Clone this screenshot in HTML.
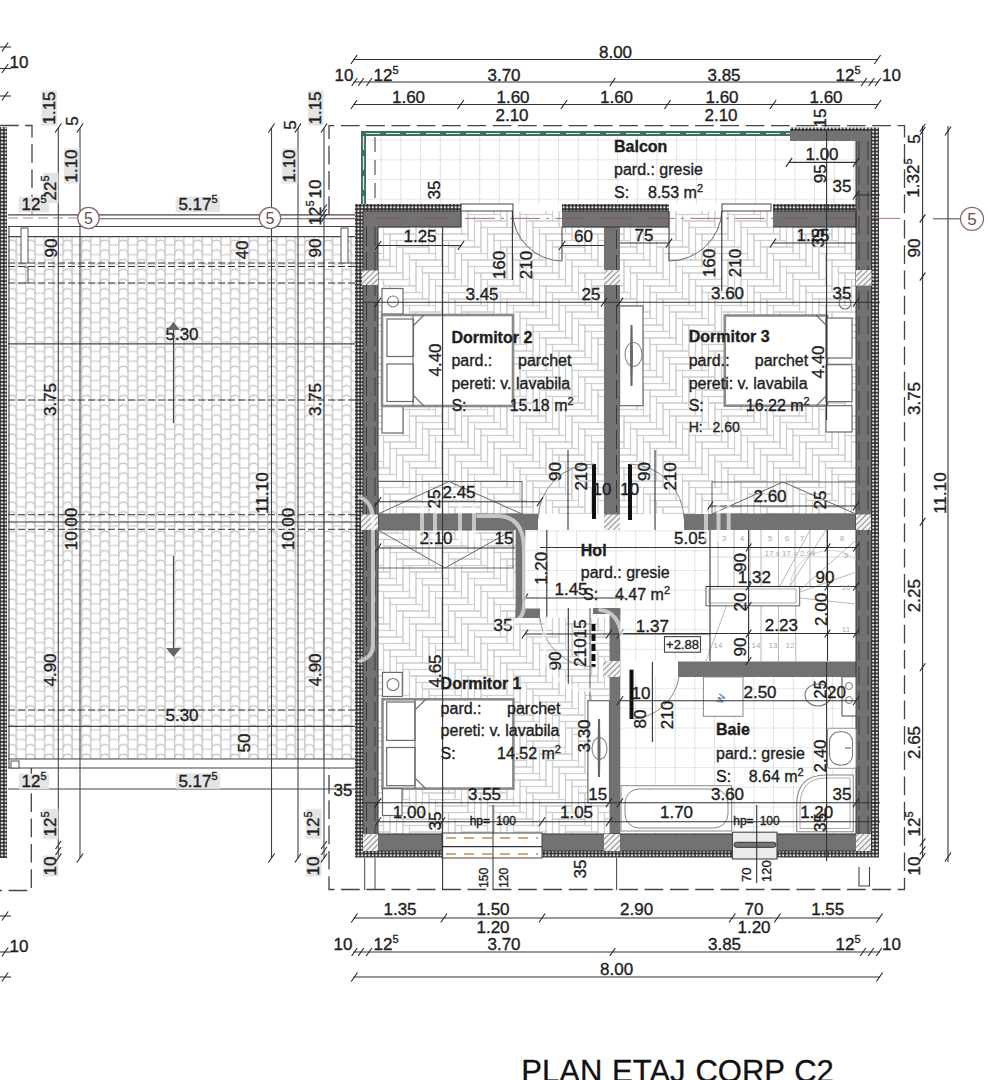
<!DOCTYPE html>
<html><head><meta charset="utf-8"><style>
html,body{margin:0;padding:0;background:#fff;width:988px;height:1080px;overflow:hidden}
svg{display:block;font-family:"Liberation Sans",sans-serif}
</style></head><body>
<svg width="988" height="1080" viewBox="0 0 988 1080">
<rect width="988" height="1080" fill="#fff"/>

<defs>
 <pattern id="dots" width="3.6" height="3.6" patternUnits="userSpaceOnUse" patternTransform="translate(0.2 0.3)">
  <rect width="3.6" height="3.6" fill="#2c2c2c"/>
  <circle cx="1.8" cy="1.8" r="1.2" fill="#e9e9e9"/>
 </pattern>
 <pattern id="hatch" width="4" height="4" patternUnits="userSpaceOnUse" patternTransform="rotate(45)">
  <rect width="4" height="4" fill="#f4f4f4"/>
  <line x1="0" y1="0" x2="0" y2="4" stroke="#555" stroke-width="1.3"/>
 </pattern>
 <pattern id="grid" width="19.7" height="19.7" patternUnits="userSpaceOnUse" patternTransform="translate(6.4 1.7)">
  <rect width="19.7" height="19.7" fill="#fff"/>
  <path d="M0 0H19.7M0 0V19.7" stroke="#cfcfcf" stroke-width="1.2"/>
 </pattern>
 <pattern id="grid2" width="19.7" height="19.7" patternUnits="userSpaceOnUse" patternTransform="translate(4.8 18.4)">
  <rect width="19.7" height="19.7" fill="#fff"/>
  <path d="M0 0H19.7M0 0V19.7" stroke="#cfcfcf" stroke-width="1.2"/>
 </pattern>
 <pattern id="roof" width="18.6" height="9.7" patternUnits="userSpaceOnUse" patternTransform="translate(6.5 239)">
  <rect width="18.6" height="9.7" fill="#fff"/>
  <path d="M0.6 0V9.7M9.9 0V9.7" stroke="#cacaca" stroke-width="1.4"/>
  <path d="M0.6 7 C0.6 1.8 2.2 1.2 5.25 1.2 C8.3 1.2 9.9 1.8 9.9 7" fill="none" stroke="#cacaca" stroke-width="1.4"/>
  <path d="M9.9 6.2 Q14.5 5.2 19.2 6.2" fill="none" stroke="#cfcfcf" stroke-width="1.3"/>
 </pattern>

 <pattern id="herr" width="52" height="52" patternUnits="userSpaceOnUse">
  <rect width="52" height="52" fill="#fff"/>
  <g fill="none" stroke="#d0d0d0" stroke-width="1.1"><rect x="-6.5" y="0.0" width="6.5" height="26.0"/><rect x="-6.5" y="-6.5" width="26.0" height="6.5"/><rect x="19.5" y="-26.0" width="6.5" height="26.0"/><rect x="-26.0" y="26.0" width="26.0" height="6.5"/><rect x="0.0" y="6.5" width="6.5" height="26.0"/><rect x="0.0" y="0.0" width="26.0" height="6.5"/><rect x="26.0" y="-19.5" width="6.5" height="26.0"/><rect x="-19.5" y="32.5" width="26.0" height="6.5"/><rect x="6.5" y="13.0" width="6.5" height="26.0"/><rect x="6.5" y="6.5" width="26.0" height="6.5"/><rect x="32.5" y="-13.0" width="6.5" height="26.0"/><rect x="-13.0" y="39.0" width="26.0" height="6.5"/><rect x="13.0" y="19.5" width="6.5" height="26.0"/><rect x="13.0" y="13.0" width="26.0" height="6.5"/><rect x="39.0" y="-6.5" width="6.5" height="26.0"/><rect x="-6.5" y="52.0" width="6.5" height="26.0"/><rect x="-6.5" y="45.5" width="26.0" height="6.5"/><rect x="19.5" y="26.0" width="6.5" height="26.0"/><rect x="19.5" y="19.5" width="26.0" height="6.5"/><rect x="45.5" y="0.0" width="6.5" height="26.0"/><rect x="45.5" y="-6.5" width="26.0" height="6.5"/><rect x="0.0" y="52.0" width="26.0" height="6.5"/><rect x="26.0" y="32.5" width="6.5" height="26.0"/><rect x="26.0" y="26.0" width="26.0" height="6.5"/><rect x="52.0" y="6.5" width="6.5" height="26.0"/><rect x="52.0" y="0.0" width="26.0" height="6.5"/><rect x="32.5" y="39.0" width="6.5" height="26.0"/><rect x="32.5" y="32.5" width="26.0" height="6.5"/><rect x="39.0" y="45.5" width="6.5" height="26.0"/><rect x="39.0" y="39.0" width="26.0" height="6.5"/><rect x="45.5" y="52.0" width="6.5" height="26.0"/><rect x="45.5" y="45.5" width="26.0" height="6.5"/><rect x="52.0" y="52.0" width="26.0" height="6.5"/></g>
 </pattern>
</defs>

<rect x="8" y="237" width="347" height="522" fill="url(#roof)" />
<rect x="0" y="127" width="7" height="731" fill="url(#dots)" />
<rect x="355" y="127" width="1" height="731" fill="#fff" />
<line x1="8" y1="214.8" x2="355" y2="214.8" stroke="#444" stroke-width="1.2" />
<line x1="8" y1="226.5" x2="355" y2="226.5" stroke="#444" stroke-width="1.2" />
<line x1="8" y1="236.6" x2="355" y2="236.6" stroke="#444" stroke-width="1.2" />
<line x1="8" y1="343.8" x2="355" y2="343.8" stroke="#444" stroke-width="1.2" />
<line x1="8" y1="522" x2="355" y2="522" stroke="#444" stroke-width="1.2" />
<line x1="8" y1="726.4" x2="355" y2="726.4" stroke="#444" stroke-width="1.2" />
<line x1="8" y1="759" x2="355" y2="759" stroke="#444" stroke-width="1.2" />
<line x1="8" y1="768" x2="355" y2="768" stroke="#444" stroke-width="1.2" />
<line x1="8" y1="789" x2="355" y2="789" stroke="#444" stroke-width="1.2" />
<line x1="8" y1="263" x2="355" y2="263" stroke="#333" stroke-width="1" stroke-dasharray="7 3"/>
<line x1="8" y1="266.5" x2="355" y2="266.5" stroke="#333" stroke-width="1" stroke-dasharray="7 3"/>
<line x1="8" y1="283" x2="355" y2="283" stroke="#333" stroke-width="1" stroke-dasharray="7 3"/>
<line x1="8" y1="400" x2="355" y2="400" stroke="#333" stroke-width="1" stroke-dasharray="7 3"/>
<line x1="8" y1="710" x2="355" y2="710" stroke="#333" stroke-width="1" stroke-dasharray="7 3"/>
<line x1="8" y1="514.7" x2="355" y2="514.7" stroke="#333" stroke-width="1" stroke-dasharray="7 3"/>
<line x1="8" y1="529.3" x2="355" y2="529.3" stroke="#333" stroke-width="1" stroke-dasharray="7 3"/>
<line x1="9" y1="226.5" x2="9" y2="768" stroke="#444" stroke-width="1.1"/>
<rect x="21" y="228" width="7.0" height="35.0" fill="#fff" stroke="#555" stroke-width="1"/>
<path d="M24 267H28V283H24" fill="none" stroke="#555" stroke-width="1" />
<rect x="341" y="228" width="7.0" height="35.0" fill="#fff" stroke="#555" stroke-width="1"/>
<rect x="11" y="761" width="8.0" height="7.0" fill="#fff" stroke="#555" stroke-width="1"/>
<line x1="55.5" y1="849.0" x2="61.1" y2="841.0" stroke="#222" stroke-width="1.1"/>
<line x1="321.2" y1="849.0" x2="326.8" y2="841.0" stroke="#222" stroke-width="1.1"/>
<line x1="55.5" y1="855.0" x2="61.1" y2="847.0" stroke="#222" stroke-width="1.1"/>
<line x1="321.2" y1="855.0" x2="326.8" y2="847.0" stroke="#222" stroke-width="1.1"/>
<line x1="321.2" y1="212.5" x2="326.8" y2="204.5" stroke="#222" stroke-width="1.1"/>
<line x1="321.2" y1="217.0" x2="326.8" y2="209.0" stroke="#222" stroke-width="1.1"/>
<line x1="321.2" y1="222.0" x2="326.8" y2="214.0" stroke="#222" stroke-width="1.1"/>
<line x1="80" y1="218.7" x2="355" y2="218.7" stroke="#555" stroke-width="1.1"/>
<line x1="8" y1="218" x2="80" y2="218" stroke="#a05050" stroke-width="1" stroke-dasharray="10 5" opacity="0.7"/>
<line x1="58.3" y1="128" x2="58.3" y2="858" stroke="#444" stroke-width="1.1" />
<line x1="80" y1="128" x2="80" y2="858" stroke="#444" stroke-width="1.1" />
<line x1="271.5" y1="128" x2="271.5" y2="858" stroke="#444" stroke-width="1.1" />
<line x1="298" y1="128" x2="298" y2="858" stroke="#444" stroke-width="1.1" />
<line x1="324" y1="128" x2="324" y2="858" stroke="#444" stroke-width="1.1" />
<rect x="366" y="135" width="490" height="69" fill="url(#grid)" />
<rect x="378" y="211" width="226" height="303" fill="url(#herr)" />
<rect x="620" y="211" width="236" height="303" fill="url(#herr)" />
<rect x="378" y="530" width="231" height="304" fill="url(#herr)" />
<rect x="525" y="530" width="185" height="88" fill="url(#grid2)" />
<rect x="609" y="618" width="101" height="43" fill="url(#grid2)" />
<rect x="710" y="530" width="146" height="131" fill="#fff" />
<rect x="620" y="677" width="236" height="157" fill="url(#grid2)" />
<rect x="355" y="204" width="8" height="653" fill="url(#dots)" />
<rect x="871.5" y="131" width="7.5" height="726" fill="url(#dots)" />
<rect x="355" y="850.5" width="524" height="7.0" fill="url(#dots)" />
<rect x="355" y="204" width="106" height="7" fill="url(#dots)" />
<rect x="562" y="204" width="107" height="7" fill="url(#dots)" />
<rect x="773" y="204" width="98.5" height="7" fill="url(#dots)" />
<rect x="363" y="211" width="15" height="640" fill="#727272" />
<rect x="856" y="131" width="15.5" height="720" fill="#727272" />
<rect x="363" y="834" width="508.5" height="17" fill="#727272" />
<rect x="363" y="211" width="98" height="16" fill="#727272" />
<rect x="562" y="211" width="107" height="16" fill="#727272" />
<rect x="773" y="211" width="83" height="16" fill="#727272" />
<rect x="790" y="131" width="66" height="10" fill="#727272" />
<rect x="790" y="127.5" width="89" height="3.5" fill="url(#dots)" />
<rect x="604" y="227" width="16" height="303" fill="#727272" />
<rect x="378" y="514" width="160" height="16" fill="#727272" />
<rect x="684" y="514" width="172" height="16" fill="#727272" />
<rect x="515.6" y="530" width="9.699999999999932" height="88" fill="#727272" />
<rect x="515.6" y="608.5" width="24.399999999999977" height="9.5" fill="#727272" />
<rect x="609.5" y="608.5" width="10.799999999999955" height="225.5" fill="#727272" />
<rect x="593" y="608" width="27.299999999999955" height="6" fill="#727272" />
<rect x="678" y="661.5" width="178" height="15.5" fill="#727272" />
<line x1="366.5" y1="227" x2="366.5" y2="834" stroke="#3a3a3a" stroke-width="1" stroke-dasharray="19 6"/>
<line x1="375" y1="227" x2="375" y2="834" stroke="#3a3a3a" stroke-width="1" stroke-dasharray="19 6"/>
<line x1="859" y1="141" x2="859" y2="834" stroke="#3a3a3a" stroke-width="1" stroke-dasharray="19 6"/>
<line x1="868" y1="141" x2="868" y2="834" stroke="#3a3a3a" stroke-width="1" stroke-dasharray="19 6"/>
<path d="M378 227V834H856V141" fill="none" stroke="#333" stroke-width="1"/>
<line x1="616.5" y1="230" x2="616.5" y2="512" stroke="#3a3a3a" stroke-width="1" stroke-dasharray="19 6"/>
<path d="M363 211V851H871.5V131" fill="none" stroke="#333" stroke-width="1"/>
<path d="M363 211H461V227H378" fill="none" stroke="#333" stroke-width="1"/>
<path d="M562 211H669V227H562" fill="none" stroke="#333" stroke-width="1"/>
<path d="M773 211H856V227H773" fill="none" stroke="#333" stroke-width="1"/>
<line x1="330" y1="218.4" x2="904" y2="218.4" stroke="#a05050" stroke-width="1" stroke-dasharray="30 6 3 6" opacity="0.8"/>
<rect x="604" y="270" width="16" height="15" fill="url(#hatch)" />
<rect x="362" y="270.5" width="16" height="14.5" fill="url(#hatch)" />
<rect x="856" y="270" width="15.5" height="15.600000000000023" fill="url(#hatch)" />
<rect x="361" y="514.5" width="17" height="15.5" fill="url(#hatch)" />
<rect x="604" y="514.5" width="16" height="15.5" fill="url(#hatch)" />
<rect x="856" y="514.5" width="15" height="15.5" fill="url(#hatch)" />
<rect x="363" y="834" width="15" height="17" fill="url(#hatch)" />
<rect x="604" y="834" width="16" height="17" fill="url(#hatch)" />
<rect x="856" y="834" width="15" height="17" fill="url(#hatch)" />
<rect x="603" y="661" width="17" height="16" fill="url(#hatch)" />
<rect x="461" y="204" width="52" height="7" fill="#fff" stroke="#444" stroke-width="1"/>
<rect x="722" y="204" width="49" height="7" fill="#fff" stroke="#444" stroke-width="1"/>
<rect x="442" y="833" width="100" height="25" fill="#fff" stroke="#444" stroke-width="1"/>
<rect x="732.4" y="832.2" width="44.60000000000002" height="26.799999999999955" fill="#ebebeb" stroke="#444" stroke-width="1.1"/>
<rect x="734" y="842.3" width="42" height="5" rx="2.5" fill="#777" stroke="#333" stroke-width="1"/>
<rect x="361" y="131" width="5" height="73" fill="#3f6f5f" />
<rect x="361" y="131" width="429" height="5" fill="#3f6f5f" />
<line x1="366" y1="133.5" x2="790" y2="133.5" stroke="#dfe8e4" stroke-width="1.2" stroke-dasharray="14 6"/>
<line x1="363.5" y1="136" x2="363.5" y2="204" stroke="#dfe8e4" stroke-width="1.2" stroke-dasharray="14 6"/>
<line x1="375" y1="137" x2="375" y2="204" stroke="#555" stroke-width="1.2" stroke-dasharray="15 8"/>
<path d="M329 215V125.7H904.5V889.5H329V768" fill="none" stroke="#444" stroke-width="1.3" stroke-dasharray="18.7 6.6"/>
<line x1="353.5" y1="59.5" x2="878" y2="59.5" stroke="#333" stroke-width="1.1"/>
<line x1="350.9" y1="64.0" x2="357.1" y2="55.0" stroke="#222" stroke-width="1.1"/>
<line x1="874.4" y1="64.0" x2="880.6" y2="55.0" stroke="#222" stroke-width="1.1"/>
<text x="615.5" y="57.5" font-size="17" text-anchor="middle" font-weight="normal" fill="#1e1e1e" stroke="#1e1e1e" stroke-width="0.35">8.00</text>
<line x1="353.5" y1="82" x2="878" y2="82" stroke="#333" stroke-width="1.1"/>
<line x1="351.7" y1="86.0" x2="357.3" y2="78.0" stroke="#222" stroke-width="1.1"/>
<line x1="358.2" y1="86.0" x2="363.8" y2="78.0" stroke="#222" stroke-width="1.1"/>
<line x1="366.4" y1="86.0" x2="372.0" y2="78.0" stroke="#222" stroke-width="1.1"/>
<line x1="609.7" y1="86.0" x2="615.3" y2="78.0" stroke="#222" stroke-width="1.1"/>
<line x1="861.2" y1="86.0" x2="866.8" y2="78.0" stroke="#222" stroke-width="1.1"/>
<line x1="868.7" y1="86.0" x2="874.3" y2="78.0" stroke="#222" stroke-width="1.1"/>
<line x1="875.2" y1="86.0" x2="880.8" y2="78.0" stroke="#222" stroke-width="1.1"/>
<text x="344" y="80.5" font-size="17" text-anchor="middle" font-weight="normal" fill="#1e1e1e" stroke="#1e1e1e" stroke-width="0.35">10</text>
<text x="386" y="80.5" font-size="17" text-anchor="middle" font-weight="normal" fill="#1e1e1e" stroke="#1e1e1e" stroke-width="0.35">12<tspan font-size="11" dy="-7">5</tspan></text>
<text x="504" y="80.5" font-size="17" text-anchor="middle" font-weight="normal" fill="#1e1e1e" stroke="#1e1e1e" stroke-width="0.35">3.70</text>
<text x="724" y="80.5" font-size="17" text-anchor="middle" font-weight="normal" fill="#1e1e1e" stroke="#1e1e1e" stroke-width="0.35">3.85</text>
<text x="848" y="80.5" font-size="17" text-anchor="middle" font-weight="normal" fill="#1e1e1e" stroke="#1e1e1e" stroke-width="0.35">12<tspan font-size="11" dy="-7">5</tspan></text>
<text x="891.5" y="80.5" font-size="17" text-anchor="middle" font-weight="normal" fill="#1e1e1e" stroke="#1e1e1e" stroke-width="0.35">10</text>
<line x1="353.5" y1="104.5" x2="878" y2="104.5" stroke="#333" stroke-width="1.1"/>
<line x1="350.9" y1="109.0" x2="357.1" y2="100.0" stroke="#222" stroke-width="1.1"/>
<line x1="457.5" y1="109.0" x2="463.8" y2="100.0" stroke="#222" stroke-width="1.1"/>
<line x1="560.9" y1="109.0" x2="567.1" y2="100.0" stroke="#222" stroke-width="1.1"/>
<line x1="664.4" y1="109.0" x2="670.6" y2="100.0" stroke="#222" stroke-width="1.1"/>
<line x1="769.9" y1="109.0" x2="776.1" y2="100.0" stroke="#222" stroke-width="1.1"/>
<line x1="874.9" y1="109.0" x2="881.1" y2="100.0" stroke="#222" stroke-width="1.1"/>
<text x="408.5" y="102.5" font-size="17" text-anchor="middle" font-weight="normal" fill="#1e1e1e" stroke="#1e1e1e" stroke-width="0.35">1.60</text>
<text x="513" y="102.5" font-size="17" text-anchor="middle" font-weight="normal" fill="#1e1e1e" stroke="#1e1e1e" stroke-width="0.35">1.60</text>
<text x="616.5" y="102.5" font-size="17" text-anchor="middle" font-weight="normal" fill="#1e1e1e" stroke="#1e1e1e" stroke-width="0.35">1.60</text>
<text x="722" y="102.5" font-size="17" text-anchor="middle" font-weight="normal" fill="#1e1e1e" stroke="#1e1e1e" stroke-width="0.35">1.60</text>
<text x="826" y="102.5" font-size="17" text-anchor="middle" font-weight="normal" fill="#1e1e1e" stroke="#1e1e1e" stroke-width="0.35">1.60</text>
<text x="512" y="120.5" font-size="17" text-anchor="middle" font-weight="normal" fill="#1e1e1e" stroke="#1e1e1e" stroke-width="0.35">2.10</text>
<text x="721" y="120.5" font-size="17" text-anchor="middle" font-weight="normal" fill="#1e1e1e" stroke="#1e1e1e" stroke-width="0.35">2.10</text>
<line x1="353.5" y1="918" x2="880" y2="918" stroke="#333" stroke-width="1.1"/>
<line x1="351.2" y1="922.5" x2="357.5" y2="913.5" stroke="#222" stroke-width="1.1"/>
<line x1="440.8" y1="922.5" x2="447.0" y2="913.5" stroke="#222" stroke-width="1.1"/>
<line x1="538.9" y1="922.5" x2="545.1" y2="913.5" stroke="#222" stroke-width="1.1"/>
<line x1="729.1" y1="922.5" x2="735.4" y2="913.5" stroke="#222" stroke-width="1.1"/>
<line x1="774.2" y1="922.5" x2="780.5" y2="913.5" stroke="#222" stroke-width="1.1"/>
<line x1="876.4" y1="922.5" x2="882.6" y2="913.5" stroke="#222" stroke-width="1.1"/>
<text x="400" y="914.5" font-size="17" text-anchor="middle" font-weight="normal" fill="#1e1e1e" stroke="#1e1e1e" stroke-width="0.35">1.35</text>
<text x="493" y="914.5" font-size="17" text-anchor="middle" font-weight="normal" fill="#1e1e1e" stroke="#1e1e1e" stroke-width="0.35">1.50</text>
<text x="636.6" y="914.5" font-size="17" text-anchor="middle" font-weight="normal" fill="#1e1e1e" stroke="#1e1e1e" stroke-width="0.35">2.90</text>
<text x="754" y="914.5" font-size="17" text-anchor="middle" font-weight="normal" fill="#1e1e1e" stroke="#1e1e1e" stroke-width="0.35">70</text>
<text x="827.7" y="914.5" font-size="17" text-anchor="middle" font-weight="normal" fill="#1e1e1e" stroke="#1e1e1e" stroke-width="0.35">1.55</text>
<text x="493" y="932.5" font-size="17" text-anchor="middle" font-weight="normal" fill="#1e1e1e" stroke="#1e1e1e" stroke-width="0.35">1.20</text>
<text x="754" y="932.5" font-size="17" text-anchor="middle" font-weight="normal" fill="#1e1e1e" stroke="#1e1e1e" stroke-width="0.35">1.20</text>
<line x1="353.5" y1="952" x2="880" y2="952" stroke="#333" stroke-width="1.1"/>
<line x1="351.6" y1="956.0" x2="357.2" y2="948.0" stroke="#222" stroke-width="1.1"/>
<line x1="358.2" y1="956.0" x2="363.8" y2="948.0" stroke="#222" stroke-width="1.1"/>
<line x1="366.2" y1="956.0" x2="371.8" y2="948.0" stroke="#222" stroke-width="1.1"/>
<line x1="609.7" y1="956.0" x2="615.3" y2="948.0" stroke="#222" stroke-width="1.1"/>
<line x1="860.2" y1="956.0" x2="865.8" y2="948.0" stroke="#222" stroke-width="1.1"/>
<line x1="868.2" y1="956.0" x2="873.8" y2="948.0" stroke="#222" stroke-width="1.1"/>
<line x1="876.2" y1="956.0" x2="881.8" y2="948.0" stroke="#222" stroke-width="1.1"/>
<text x="343" y="950" font-size="17" text-anchor="middle" font-weight="normal" fill="#1e1e1e" stroke="#1e1e1e" stroke-width="0.35">10</text>
<text x="386" y="950" font-size="17" text-anchor="middle" font-weight="normal" fill="#1e1e1e" stroke="#1e1e1e" stroke-width="0.35">12<tspan font-size="11" dy="-7">5</tspan></text>
<text x="504" y="950" font-size="17" text-anchor="middle" font-weight="normal" fill="#1e1e1e" stroke="#1e1e1e" stroke-width="0.35">3.70</text>
<text x="724.5" y="950" font-size="17" text-anchor="middle" font-weight="normal" fill="#1e1e1e" stroke="#1e1e1e" stroke-width="0.35">3.85</text>
<text x="848" y="950" font-size="17" text-anchor="middle" font-weight="normal" fill="#1e1e1e" stroke="#1e1e1e" stroke-width="0.35">12<tspan font-size="11" dy="-7">5</tspan></text>
<text x="891.5" y="950" font-size="17" text-anchor="middle" font-weight="normal" fill="#1e1e1e" stroke="#1e1e1e" stroke-width="0.35">10</text>
<line x1="353.5" y1="977" x2="880" y2="977" stroke="#333" stroke-width="1.1"/>
<line x1="351.2" y1="981.5" x2="357.5" y2="972.5" stroke="#222" stroke-width="1.1"/>
<line x1="876.4" y1="981.5" x2="882.6" y2="972.5" stroke="#222" stroke-width="1.1"/>
<text x="616.6" y="974.5" font-size="17" text-anchor="middle" font-weight="normal" fill="#1e1e1e" stroke="#1e1e1e" stroke-width="0.35">8.00</text>
<text x="521.3" y="1081.8" font-size="31" word-spacing="1.2" fill="#111" stroke="#111" stroke-width="0.3">PLAN ETAJ CORP C2</text>
<line x1="922.6" y1="126" x2="922.6" y2="858" stroke="#333" stroke-width="1.1"/>
<line x1="919.8" y1="131.8" x2="925.4" y2="123.8" stroke="#222" stroke-width="1.1"/>
<line x1="919.8" y1="135.0" x2="925.4" y2="127.0" stroke="#222" stroke-width="1.1"/>
<line x1="919.8" y1="222.4" x2="925.4" y2="214.4" stroke="#222" stroke-width="1.1"/>
<line x1="919.8" y1="280.6" x2="925.4" y2="272.6" stroke="#222" stroke-width="1.1"/>
<line x1="919.8" y1="525.7" x2="925.4" y2="517.7" stroke="#222" stroke-width="1.1"/>
<line x1="919.8" y1="671.2" x2="925.4" y2="663.2" stroke="#222" stroke-width="1.1"/>
<line x1="919.8" y1="846.3" x2="925.4" y2="838.3" stroke="#222" stroke-width="1.1"/>
<line x1="919.8" y1="854.5" x2="925.4" y2="846.5" stroke="#222" stroke-width="1.1"/>
<line x1="919.8" y1="861.0" x2="925.4" y2="853.0" stroke="#222" stroke-width="1.1"/>
<line x1="948" y1="126" x2="948" y2="862" stroke="#333" stroke-width="1.1"/>
<line x1="944.9" y1="135.5" x2="951.1" y2="126.5" stroke="#222" stroke-width="1.1"/>
<line x1="944.9" y1="861.5" x2="951.1" y2="852.5" stroke="#222" stroke-width="1.1"/>
<text transform="translate(919.6 139) rotate(-90)" font-size="17" text-anchor="middle" fill="#1e1e1e" stroke="#1e1e1e" stroke-width="0.35">5</text>
<text transform="translate(919.1 178) rotate(-90)" font-size="17" text-anchor="middle" fill="#1e1e1e" stroke="#1e1e1e" stroke-width="0.35">1.32<tspan font-size="11" dy="-7">5</tspan></text>
<text transform="translate(919.6 248) rotate(-90)" font-size="17" text-anchor="middle" fill="#1e1e1e" stroke="#1e1e1e" stroke-width="0.35">90</text>
<text transform="translate(919.6 398.5) rotate(-90)" font-size="17" text-anchor="middle" fill="#1e1e1e" stroke="#1e1e1e" stroke-width="0.35">3.75</text>
<text transform="translate(919.6 595.7) rotate(-90)" font-size="17" text-anchor="middle" fill="#1e1e1e" stroke="#1e1e1e" stroke-width="0.35">2.25</text>
<text transform="translate(919.6 742.5) rotate(-90)" font-size="17" text-anchor="middle" fill="#1e1e1e" stroke="#1e1e1e" stroke-width="0.35">2.65</text>
<text transform="translate(919.6 824) rotate(-90)" font-size="17" text-anchor="middle" fill="#1e1e1e" stroke="#1e1e1e" stroke-width="0.35">12<tspan font-size="11" dy="-7">5</tspan></text>
<text transform="translate(919.6 866) rotate(-90)" font-size="17" text-anchor="middle" fill="#1e1e1e" stroke="#1e1e1e" stroke-width="0.35">10</text>
<text transform="translate(945.6 493) rotate(-90)" font-size="17" text-anchor="middle" fill="#1e1e1e" stroke="#1e1e1e" stroke-width="0.35">11.10</text>
<line x1="933" y1="218.8" x2="960" y2="218.8" stroke="#555" stroke-width="1.1"/>
<circle cx="972" cy="218.8" r="11.5" fill="#fff" stroke="#8a6a6a" stroke-width="1.3"/>
<text x="972" y="225" font-size="17" text-anchor="middle" fill="#6a4f4f">5</text>
<path d="M859 867V886H869.5V867" fill="none" stroke="#444" stroke-width="1.1"/>
<line x1="1.9" y1="51.5" x2="8.2" y2="42.5" stroke="#222" stroke-width="1.1"/>
<line x1="0" y1="47" x2="11" y2="47" stroke="#333" stroke-width="1.1"/>
<line x1="1.9" y1="73.0" x2="8.2" y2="64.0" stroke="#222" stroke-width="1.1"/>
<line x1="0" y1="68.5" x2="11" y2="68.5" stroke="#333" stroke-width="1.1"/>
<line x1="1.9" y1="100.5" x2="8.2" y2="91.5" stroke="#222" stroke-width="1.1"/>
<line x1="0" y1="96" x2="11" y2="96" stroke="#333" stroke-width="1.1"/>
<text x="19" y="68" font-size="17" text-anchor="middle" font-weight="normal" fill="#1e1e1e" stroke="#1e1e1e" stroke-width="0.35">10</text>
<line x1="1.9" y1="920.5" x2="8.2" y2="911.5" stroke="#222" stroke-width="1.1"/>
<line x1="0" y1="916" x2="11" y2="916" stroke="#333" stroke-width="1.1"/>
<line x1="1.9" y1="956.5" x2="8.2" y2="947.5" stroke="#222" stroke-width="1.1"/>
<line x1="0" y1="952" x2="11" y2="952" stroke="#333" stroke-width="1.1"/>
<line x1="1.9" y1="981.5" x2="8.2" y2="972.5" stroke="#222" stroke-width="1.1"/>
<line x1="0" y1="977" x2="11" y2="977" stroke="#333" stroke-width="1.1"/>
<text x="19" y="952" font-size="17" text-anchor="middle" font-weight="normal" fill="#1e1e1e" stroke="#1e1e1e" stroke-width="0.35">10</text>
<path d="M0 125.5H32V215" fill="none" stroke="#444" stroke-width="1.3" stroke-dasharray="18.7 6.6"/>
<path d="M31.3 768V890.5H0" fill="none" stroke="#444" stroke-width="1.3" stroke-dasharray="18.7 6.6"/>
<rect x="41.5" y="90.5" width="15.6" height="35.1" fill="#e4e4e4"/>
<text transform="translate(54.7 108) rotate(-90)" font-size="17" text-anchor="middle" fill="#1e1e1e" stroke="#1e1e1e" stroke-width="0.35">1.15</text>
<text transform="translate(78.1 121) rotate(-90)" font-size="17" text-anchor="middle" fill="#1e1e1e" stroke="#1e1e1e" stroke-width="0.35">5</text>
<rect x="63.9" y="148.5" width="15.6" height="35.1" fill="#e4e4e4"/>
<text transform="translate(77.1 166) rotate(-90)" font-size="17" text-anchor="middle" fill="#1e1e1e" stroke="#1e1e1e" stroke-width="0.35">1.10</text>
<rect x="42.9" y="172.8" width="15.6" height="30.4" fill="#e4e4e4"/>
<text transform="translate(56.1 188) rotate(-90)" font-size="17" text-anchor="middle" fill="#1e1e1e" stroke="#1e1e1e" stroke-width="0.35">22<tspan font-size="11" dy="-7">5</tspan></text>
<rect x="18.8" y="196.7" width="30.4" height="15.6" fill="#e4e4e4"/>
<text x="34" y="210" font-size="17" text-anchor="middle" font-weight="normal" fill="#1e1e1e" stroke="#1e1e1e" stroke-width="0.35">12<tspan font-size="11" dy="-7">5</tspan></text>
<rect x="307.9" y="90.5" width="15.6" height="35.1" fill="#e4e4e4"/>
<text transform="translate(321.1 108) rotate(-90)" font-size="17" text-anchor="middle" fill="#1e1e1e" stroke="#1e1e1e" stroke-width="0.35">1.15</text>
<text transform="translate(296.1 125) rotate(-90)" font-size="17" text-anchor="middle" fill="#1e1e1e" stroke="#1e1e1e" stroke-width="0.35">5</text>
<rect x="281.9" y="148.5" width="15.6" height="35.1" fill="#e4e4e4"/>
<text transform="translate(295.1 166) rotate(-90)" font-size="17" text-anchor="middle" fill="#1e1e1e" stroke="#1e1e1e" stroke-width="0.35">1.10</text>
<text transform="translate(320.9 189) rotate(-90)" font-size="17" text-anchor="middle" fill="#1e1e1e" stroke="#1e1e1e" stroke-width="0.35">10</text>
<text transform="translate(321.1 213) rotate(-90)" font-size="17" text-anchor="middle" fill="#1e1e1e" stroke="#1e1e1e" stroke-width="0.35">12<tspan font-size="11" dy="-7">5</tspan></text>
<rect x="175.7" y="196.7" width="44.5" height="15.6" fill="#e4e4e4"/>
<text x="198" y="210" font-size="17" text-anchor="middle" font-weight="normal" fill="#1e1e1e" stroke="#1e1e1e" stroke-width="0.35">5.17<tspan font-size="11" dy="-7">5</tspan></text>
<text transform="translate(57.1 248) rotate(-90)" font-size="17" text-anchor="middle" fill="#1e1e1e" stroke="#1e1e1e" stroke-width="0.35">90</text>
<text transform="translate(321.1 248) rotate(-90)" font-size="17" text-anchor="middle" fill="#1e1e1e" stroke="#1e1e1e" stroke-width="0.35">90</text>
<text transform="translate(248.1 250) rotate(-90)" font-size="17" text-anchor="middle" fill="#1e1e1e" stroke="#1e1e1e" stroke-width="0.35">40</text>
<text x="182" y="340" font-size="17" text-anchor="middle" font-weight="normal" fill="#1e1e1e" stroke="#1e1e1e" stroke-width="0.35">5.30</text>
<text transform="translate(56.4 399.5) rotate(-90)" font-size="17" text-anchor="middle" fill="#1e1e1e" stroke="#1e1e1e" stroke-width="0.35">3.75</text>
<text transform="translate(321.1 399.5) rotate(-90)" font-size="17" text-anchor="middle" fill="#1e1e1e" stroke="#1e1e1e" stroke-width="0.35">3.75</text>
<text transform="translate(268.1 493) rotate(-90)" font-size="17" text-anchor="middle" fill="#1e1e1e" stroke="#1e1e1e" stroke-width="0.35">11.10</text>
<text transform="translate(77.1 529) rotate(-90)" font-size="17" text-anchor="middle" fill="#1e1e1e" stroke="#1e1e1e" stroke-width="0.35">10.00</text>
<text transform="translate(294.1 529) rotate(-90)" font-size="17" text-anchor="middle" fill="#1e1e1e" stroke="#1e1e1e" stroke-width="0.35">10.00</text>
<text transform="translate(56.1 670) rotate(-90)" font-size="17" text-anchor="middle" fill="#1e1e1e" stroke="#1e1e1e" stroke-width="0.35">4.90</text>
<text transform="translate(321.1 670) rotate(-90)" font-size="17" text-anchor="middle" fill="#1e1e1e" stroke="#1e1e1e" stroke-width="0.35">4.90</text>
<text x="182" y="721" font-size="17" text-anchor="middle" font-weight="normal" fill="#1e1e1e" stroke="#1e1e1e" stroke-width="0.35">5.30</text>
<text transform="translate(250.1 743) rotate(-90)" font-size="17" text-anchor="middle" fill="#1e1e1e" stroke="#1e1e1e" stroke-width="0.35">50</text>
<rect x="175.7" y="773.2" width="44.5" height="15.6" fill="#e4e4e4"/>
<text x="198" y="786.5" font-size="17" text-anchor="middle" font-weight="normal" fill="#1e1e1e" stroke="#1e1e1e" stroke-width="0.35">5.17<tspan font-size="11" dy="-7">5</tspan></text>
<rect x="18.8" y="773.7" width="30.4" height="15.6" fill="#e4e4e4"/>
<text x="34" y="787" font-size="17" text-anchor="middle" font-weight="normal" fill="#1e1e1e" stroke="#1e1e1e" stroke-width="0.35">12<tspan font-size="11" dy="-7">5</tspan></text>
<text x="343" y="796" font-size="17" text-anchor="middle" font-weight="normal" fill="#1e1e1e" stroke="#1e1e1e" stroke-width="0.35">35</text>
<rect x="42.9" y="808.8" width="15.6" height="30.4" fill="#e4e4e4"/>
<text transform="translate(56.1 824) rotate(-90)" font-size="17" text-anchor="middle" fill="#1e1e1e" stroke="#1e1e1e" stroke-width="0.35">12<tspan font-size="11" dy="-7">5</tspan></text>
<rect x="42.9" y="855.5" width="15.6" height="20.9" fill="#e4e4e4"/>
<text transform="translate(56.1 866) rotate(-90)" font-size="17" text-anchor="middle" fill="#1e1e1e" stroke="#1e1e1e" stroke-width="0.35">10</text>
<rect x="305.9" y="808.8" width="15.6" height="30.4" fill="#e4e4e4"/>
<text transform="translate(319.1 824) rotate(-90)" font-size="17" text-anchor="middle" fill="#1e1e1e" stroke="#1e1e1e" stroke-width="0.35">12<tspan font-size="11" dy="-7">5</tspan></text>
<rect x="305.9" y="855.5" width="15.6" height="20.9" fill="#e4e4e4"/>
<text transform="translate(319.1 866) rotate(-90)" font-size="17" text-anchor="middle" fill="#1e1e1e" stroke="#1e1e1e" stroke-width="0.35">10</text>
<line x1="55.1" y1="862.5" x2="61.4" y2="853.5" stroke="#222" stroke-width="1.1"/>
<line x1="76.8" y1="862.5" x2="83.2" y2="853.5" stroke="#222" stroke-width="1.1"/>
<line x1="268.4" y1="862.5" x2="274.6" y2="853.5" stroke="#222" stroke-width="1.1"/>
<line x1="294.9" y1="862.5" x2="301.1" y2="853.5" stroke="#222" stroke-width="1.1"/>
<line x1="320.9" y1="862.5" x2="327.1" y2="853.5" stroke="#222" stroke-width="1.1"/>
<line x1="55.1" y1="132.5" x2="61.4" y2="123.5" stroke="#222" stroke-width="1.1"/>
<line x1="76.8" y1="132.5" x2="83.2" y2="123.5" stroke="#222" stroke-width="1.1"/>
<line x1="268.4" y1="132.5" x2="274.6" y2="123.5" stroke="#222" stroke-width="1.1"/>
<line x1="294.9" y1="132.5" x2="301.1" y2="123.5" stroke="#222" stroke-width="1.1"/>
<line x1="320.9" y1="132.5" x2="327.1" y2="123.5" stroke="#222" stroke-width="1.1"/>
<circle cx="88.5" cy="218" r="10.7" fill="#fff" stroke="#8a6a6a" stroke-width="1.3"/>
<text x="88.5" y="224" font-size="16" text-anchor="middle" fill="#6a4f4f">5</text>
<circle cx="270" cy="218" r="10.7" fill="#fff" stroke="#8a6a6a" stroke-width="1.3"/>
<text x="270" y="224" font-size="16" text-anchor="middle" fill="#6a4f4f">5</text>
<line x1="173.5" y1="324" x2="173.5" y2="423" stroke="#444" stroke-width="1.1"/>
<path d="M167 330L173.5 322L180 330Z" fill="#666"/>
<line x1="173.5" y1="556" x2="173.5" y2="651" stroke="#444" stroke-width="1.1"/>
<path d="M166 648H181L173.5 657Z" fill="#666"/>
<rect x="382" y="288.5" width="21.0" height="25.5" fill="#fff" stroke="#6a6a6a" stroke-width="1.2"/>
<circle cx="393" cy="301.5" r="5.5" fill="none" stroke="#777" stroke-width="1.1"/>
<rect x="382" y="406" width="21.0" height="27.0" fill="#fff" stroke="#6a6a6a" stroke-width="1.2"/>
<rect x="382" y="315" width="131.0" height="91.0" fill="#fff" stroke="#8a8a8a" stroke-width="2.6"/>
<rect x="387" y="319" width="26.5" height="37.5" fill="#fff" stroke="#6a6a6a" stroke-width="1.2"/>
<rect x="387" y="364" width="26.5" height="37.5" fill="#fff" stroke="#6a6a6a" stroke-width="1.2"/>
<path d="M413 315V406 M413 326L424 315 M413 395L424 406" fill="none" stroke="#6a6a6a" stroke-width="1.1" />
<rect x="619.6" y="306" width="23.4" height="99.7" fill="#fff" stroke="#6a6a6a" stroke-width="1.2"/>
<ellipse cx="633.5" cy="354.5" rx="8.5" ry="12" fill="none" stroke="#888" stroke-width="1.1"/>
<path d="M630.5 325L632.5 325L633 355L632.5 386L630.5 386L630 355Z" fill="#666"/>
<rect x="724.8" y="315.5" width="102.2" height="90.2" fill="#fff" stroke="#8a8a8a" stroke-width="2.6"/>
<rect x="826" y="318" width="26.0" height="40.0" fill="#fff" stroke="#6a6a6a" stroke-width="1.2"/>
<rect x="826" y="364.7" width="26.0" height="36.9" fill="#fff" stroke="#6a6a6a" stroke-width="1.2"/>
<circle cx="845" cy="303" r="6" fill="none" stroke="#777" stroke-width="1.1"/>
<rect x="826" y="405.7" width="26.0" height="26.3" fill="#fff" stroke="#6a6a6a" stroke-width="1.2"/>
<path d="M827 315V406 M827 326L816 315 M827 395L816 406" fill="none" stroke="#6a6a6a" stroke-width="1.1" />
<rect x="378" y="481.5" width="144.0" height="32.5" fill="none" stroke="#666" stroke-width="1"/>
<path d="M378 514L449 481.5L522 514" fill="none" stroke="#666" stroke-width="1" />
<rect x="378" y="530" width="135.0" height="38.0" fill="none" stroke="#666" stroke-width="1"/>
<path d="M378 530L445 568L513 530" fill="none" stroke="#666" stroke-width="1" />
<rect x="712" y="482" width="144.0" height="32.0" fill="none" stroke="#666" stroke-width="1"/>
<path d="M712 514L783 482L856 514" fill="none" stroke="#666" stroke-width="1" />
<rect x="382.5" y="672.4" width="19.8" height="24.1" fill="#fff" stroke="#6a6a6a" stroke-width="1.2"/>
<circle cx="393" cy="684.5" r="6" fill="none" stroke="#777" stroke-width="1.1"/>
<rect x="382.5" y="699.3" width="130.9" height="89.3" fill="#fff" stroke="#8a8a8a" stroke-width="2.6"/>
<rect x="386.7" y="702" width="28.3" height="38.4" fill="#fff" stroke="#6a6a6a" stroke-width="1.2"/>
<rect x="386.7" y="747.5" width="28.3" height="38.2" fill="#fff" stroke="#6a6a6a" stroke-width="1.2"/>
<path d="M415 699V789 M415 710L426 699 M415 778L426 789" fill="none" stroke="#6a6a6a" stroke-width="1.1" />
<rect x="382.5" y="788.6" width="19.5" height="26.9" fill="#fff" stroke="#6a6a6a" stroke-width="1.2"/>
<rect x="587.9" y="700.7" width="21.6" height="102.0" fill="#fff" stroke="#6a6a6a" stroke-width="1.2"/>
<ellipse cx="599.5" cy="748.5" rx="7.5" ry="11" fill="none" stroke="#888" stroke-width="1.1"/>
<path d="M598 719L600 719L600.5 748L600 777L598 777L597.5 748Z" fill="#666"/>
<path d="M512.5 211A50 50 0 0 0 562 261" fill="none" stroke="#666" stroke-width="1" />
<line x1="562" y1="227" x2="562" y2="261" stroke="#555" stroke-width="1.2"/>
<path d="M722 211A53 53 0 0 1 669 261" fill="none" stroke="#666" stroke-width="1" />
<line x1="669" y1="227" x2="669" y2="261" stroke="#555" stroke-width="1.2"/>
<rect x="592" y="464" width="4" height="55" fill="#111" />
<path d="M538 519A56 56 0 0 1 594 464" fill="none" stroke="#888" stroke-width="1" />
<rect x="628" y="464" width="4" height="56" fill="#111" />
<path d="M684 519A56 56 0 0 0 630 464" fill="none" stroke="#888" stroke-width="1" />
<line x1="593.5" y1="624" x2="593.5" y2="667" stroke="#111" stroke-width="4" stroke-dasharray="7 3"/>
<path d="M540 618A54 54 0 0 0 594 667" fill="none" stroke="#999" stroke-width="1" />
<rect x="629.5" y="669.6" width="4.0" height="49.39999999999998" fill="#111" />
<path d="M633 719A50 50 0 0 0 679 677" fill="none" stroke="#888" stroke-width="1" />
<line x1="718" y1="530" x2="718" y2="586.5" stroke="#b0b0b0" stroke-width="0.9"/>
<line x1="734" y1="530" x2="734" y2="586.5" stroke="#b0b0b0" stroke-width="0.9"/>
<line x1="750" y1="530" x2="750" y2="586.5" stroke="#b0b0b0" stroke-width="0.9"/>
<line x1="761" y1="530" x2="761" y2="586.5" stroke="#b0b0b0" stroke-width="0.9"/>
<line x1="778.5" y1="530" x2="778.5" y2="586.5" stroke="#b0b0b0" stroke-width="0.9"/>
<line x1="795" y1="530" x2="795" y2="586.5" stroke="#b0b0b0" stroke-width="0.9"/>
<line x1="810" y1="530" x2="810" y2="586.5" stroke="#b0b0b0" stroke-width="0.9"/>
<line x1="826.5" y1="530" x2="826.5" y2="586.5" stroke="#b0b0b0" stroke-width="0.9"/>
<line x1="761" y1="605.8" x2="761" y2="661" stroke="#b0b0b0" stroke-width="0.9"/>
<line x1="778.5" y1="605.8" x2="778.5" y2="661" stroke="#b0b0b0" stroke-width="0.9"/>
<line x1="795.8" y1="605.8" x2="795.8" y2="661" stroke="#b0b0b0" stroke-width="0.9"/>
<path d="M706 661L726.5 606 M800 590L856 540 M800 592L856 572 M800 598L856 604 M790 586L826 530 M780 586L810 530" fill="none" stroke="#b0b0b0" stroke-width="0.9" />
<path d="M790 586A40 40 0 0 1 856 560" fill="none" stroke="#c8c8c8" stroke-width="0.8" />
<line x1="710" y1="557" x2="856" y2="557" stroke="#cfcfcf" stroke-width="0.8"/>
<rect x="706" y="586.5" width="93.6" height="19.3" fill="#fff" stroke="#777" stroke-width="1.2"/>
<rect x="709" y="589" width="87.0" height="14.0" fill="#fff" stroke="#999" stroke-width="0.8"/>
<line x1="710" y1="530" x2="710" y2="661" stroke="#444" stroke-width="1.2"/>
<line x1="540" y1="547.5" x2="856" y2="547.5" stroke="#333" stroke-width="1.1"/>
<line x1="706" y1="586.5" x2="856" y2="586.5" stroke="#333" stroke-width="1.1"/>
<line x1="620" y1="633.5" x2="856" y2="633.5" stroke="#333" stroke-width="1.1"/>
<line x1="748.6" y1="530" x2="748.6" y2="661" stroke="#333" stroke-width="1.1"/>
<line x1="827.5" y1="530" x2="827.5" y2="661" stroke="#333" stroke-width="1.1"/>
<line x1="745.8" y1="551.5" x2="751.4" y2="543.5" stroke="#222" stroke-width="1.1"/>
<line x1="745.8" y1="590.5" x2="751.4" y2="582.5" stroke="#222" stroke-width="1.1"/>
<line x1="745.8" y1="610.0" x2="751.4" y2="602.0" stroke="#222" stroke-width="1.1"/>
<line x1="745.8" y1="637.5" x2="751.4" y2="629.5" stroke="#222" stroke-width="1.1"/>
<line x1="745.8" y1="665.0" x2="751.4" y2="657.0" stroke="#222" stroke-width="1.1"/>
<line x1="853.2" y1="551.5" x2="858.8" y2="543.5" stroke="#222" stroke-width="1.1"/>
<line x1="824.7" y1="551.5" x2="830.3" y2="543.5" stroke="#222" stroke-width="1.1"/>
<line x1="853.2" y1="590.5" x2="858.8" y2="582.5" stroke="#222" stroke-width="1.1"/>
<line x1="824.7" y1="590.5" x2="830.3" y2="582.5" stroke="#222" stroke-width="1.1"/>
<line x1="853.2" y1="637.5" x2="858.8" y2="629.5" stroke="#222" stroke-width="1.1"/>
<line x1="824.7" y1="637.5" x2="830.3" y2="629.5" stroke="#222" stroke-width="1.1"/>
<text x="724" y="541" font-size="8" fill="#aaa" text-anchor="middle">3</text>
<text x="742" y="541" font-size="8" fill="#aaa" text-anchor="middle">4</text>
<text x="770" y="541" font-size="8" fill="#aaa" text-anchor="middle">5</text>
<text x="787" y="541" font-size="8" fill="#aaa" text-anchor="middle">6</text>
<text x="802" y="541" font-size="8" fill="#aaa" text-anchor="middle">7</text>
<text x="842" y="541" font-size="8" fill="#aaa" text-anchor="middle">8</text>
<text x="846" y="558" font-size="8" fill="#aaa" text-anchor="middle">9</text>
<text x="846" y="590" font-size="8" fill="#aaa" text-anchor="middle">10</text>
<text x="846" y="632" font-size="8" fill="#aaa" text-anchor="middle">11</text>
<text x="790" y="648" font-size="8" fill="#aaa" text-anchor="middle">12</text>
<text x="773" y="648" font-size="8" fill="#aaa" text-anchor="middle">13</text>
<text x="756" y="648" font-size="8" fill="#aaa" text-anchor="middle">14</text>
<text x="718" y="648" font-size="8" fill="#aaa" text-anchor="middle">14</text>
<text x="790" y="556" font-size="8" fill="#aaa" text-anchor="middle">17 x 17 = 2.94</text>
<rect x="703.4" y="677" width="39.6" height="39.3" fill="#fff" stroke="#888" stroke-width="1"/>
<text transform="translate(724 700) rotate(-70)" font-size="10" fill="#5566aa" text-anchor="middle">W</text>
<ellipse cx="818" cy="695" rx="13" ry="11" fill="#fff" stroke="#777" stroke-width="1.1"/>
<rect x="842" y="676.7" width="14.0" height="39.3" fill="#fff" stroke="#666" stroke-width="1.2"/>
<circle cx="849" cy="686" r="3.5" fill="none" stroke="#777"/><circle cx="849" cy="700" r="3.5" fill="none" stroke="#777"/>
<rect x="827.5" y="728.3" width="28.5" height="40" rx="2" fill="#fff" stroke="#999" stroke-width="1"/>
<rect x="829.5" y="731.7" width="23" height="33.3" rx="10" fill="none" stroke="#777" stroke-width="1.1"/>
<line x1="845" y1="748" x2="851" y2="748" stroke="#888" stroke-width="1.5"/>
<path d="M796.7 831.7V805Q796.7 775 826 775H853.3V831.7Z" fill="#fff" stroke="#888" stroke-width="1.1" />
<path d="M800 828.5V806Q800 778 826 778H850V828.5Z" fill="none" stroke="#aaa" stroke-width="1" />
<rect x="621" y="785.7" width="110.7" height="45.3" fill="#fff" stroke="#888" stroke-width="1"/>
<rect x="625" y="789" width="103" height="39" rx="14" fill="none" stroke="#888" stroke-width="1"/>
<rect x="664.5" y="636.6" width="36.0" height="15.6" fill="#fff" stroke="#444" stroke-width="1.1"/>
<text x="682.5" y="648.5" font-size="13" text-anchor="middle" font-weight="normal" fill="#1e1e1e" stroke="#1e1e1e" stroke-width="0.35">+2.88</text>
<line x1="442" y1="846.6" x2="542" y2="846.6" stroke="#333" stroke-width="1.2"/>
<path d="M446 838H538M446 854H538" stroke="#c9884f" stroke-width="1.3" stroke-dasharray="10 8"/>
<line x1="493" y1="805" x2="493" y2="890" stroke="#333" stroke-width="1"/>
<line x1="442.6" y1="227" x2="442.6" y2="890" stroke="#333" stroke-width="1.1"/>
<line x1="364.7" y1="858" x2="364.7" y2="890" stroke="#444" stroke-width="1"/>
<line x1="375" y1="858" x2="375" y2="890" stroke="#444" stroke-width="1"/>
<line x1="616.6" y1="858" x2="616.6" y2="890" stroke="#444" stroke-width="1"/>
<line x1="756.7" y1="805" x2="756.7" y2="883" stroke="#333" stroke-width="1.1"/>
<text x="614" y="152" font-size="16" text-anchor="start" font-weight="bold" fill="#1e1e1e" stroke="#1e1e1e" stroke-width="0.35">Balcon</text>
<text x="614" y="175" font-size="16" text-anchor="start" font-weight="normal" fill="#1e1e1e" stroke="#1e1e1e" stroke-width="0.35">pard.: gresie</text>
<text x="614" y="197.8" font-size="16" text-anchor="start" font-weight="normal" fill="#1e1e1e" stroke="#1e1e1e" stroke-width="0.35">S:</text>
<text x="648" y="197.8" font-size="16" text-anchor="start" font-weight="normal" fill="#1e1e1e" stroke="#1e1e1e" stroke-width="0.35">8.53 m<tspan font-size="11" dy="-6">2</tspan></text>
<text x="822" y="160.4" font-size="17" text-anchor="middle" font-weight="normal" fill="#1e1e1e" stroke="#1e1e1e" stroke-width="0.35">1.00</text>
<line x1="789" y1="162.4" x2="856" y2="162.4" stroke="#333" stroke-width="1.1"/>
<line x1="785.9" y1="166.9" x2="792.1" y2="157.9" stroke="#222" stroke-width="1.1"/>
<line x1="852.9" y1="166.9" x2="859.1" y2="157.9" stroke="#222" stroke-width="1.1"/>
<text transform="translate(825.6 173.7) rotate(-90)" font-size="17" text-anchor="middle" fill="#1e1e1e" stroke="#1e1e1e" stroke-width="0.35">95</text>
<text x="842" y="192" font-size="17" text-anchor="middle" font-weight="normal" fill="#1e1e1e" stroke="#1e1e1e" stroke-width="0.35">35</text>
<line x1="856" y1="195" x2="880" y2="195" stroke="#333" stroke-width="1.1"/>
<line x1="852.9" y1="199.5" x2="859.1" y2="190.5" stroke="#222" stroke-width="1.1"/>
<text transform="translate(825.6 118) rotate(-90)" font-size="17" text-anchor="middle" fill="#1e1e1e" stroke="#1e1e1e" stroke-width="0.35">15</text>
<line x1="826.6" y1="131" x2="826.6" y2="420" stroke="#333" stroke-width="1.1"/>
<text transform="translate(439.5 190) rotate(-90)" font-size="17" text-anchor="middle" fill="#1e1e1e" stroke="#1e1e1e" stroke-width="0.35">35</text>
<text x="420" y="241.6" font-size="17" text-anchor="middle" font-weight="normal" fill="#1e1e1e" stroke="#1e1e1e" stroke-width="0.35">1.25</text>
<line x1="378" y1="245.5" x2="461" y2="245.5" stroke="#333" stroke-width="1.1"/>
<line x1="374.9" y1="250.0" x2="381.1" y2="241.0" stroke="#222" stroke-width="1.1"/>
<line x1="457.9" y1="250.0" x2="464.1" y2="241.0" stroke="#222" stroke-width="1.1"/>
<text transform="translate(505.1 265) rotate(-90)" font-size="17" text-anchor="middle" fill="#1e1e1e" stroke="#1e1e1e" stroke-width="0.35">160</text>
<text transform="translate(531.6 265) rotate(-90)" font-size="17" text-anchor="middle" fill="#1e1e1e" stroke="#1e1e1e" stroke-width="0.35">210</text>
<line x1="512.4" y1="211" x2="512.4" y2="280" stroke="#333" stroke-width="1.1"/>
<text x="583.4" y="241.6" font-size="17" text-anchor="middle" font-weight="normal" fill="#1e1e1e" stroke="#1e1e1e" stroke-width="0.35">60</text>
<line x1="562" y1="245.5" x2="604" y2="245.5" stroke="#333" stroke-width="1.1"/>
<line x1="558.9" y1="250.0" x2="565.1" y2="241.0" stroke="#222" stroke-width="1.1"/>
<text x="482" y="299.5" font-size="17" text-anchor="middle" font-weight="normal" fill="#1e1e1e" stroke="#1e1e1e" stroke-width="0.35">3.45</text>
<line x1="362" y1="302.3" x2="880" y2="302.3" stroke="#333" stroke-width="1.1"/>
<line x1="374.9" y1="306.8" x2="381.1" y2="297.8" stroke="#222" stroke-width="1.1"/>
<line x1="600.9" y1="306.8" x2="607.1" y2="297.8" stroke="#222" stroke-width="1.1"/>
<line x1="616.9" y1="306.8" x2="623.1" y2="297.8" stroke="#222" stroke-width="1.1"/>
<line x1="852.9" y1="306.8" x2="859.1" y2="297.8" stroke="#222" stroke-width="1.1"/>
<text x="591" y="299.5" font-size="17" text-anchor="middle" font-weight="normal" fill="#1e1e1e" stroke="#1e1e1e" stroke-width="0.35">25</text>
<text x="644" y="241" font-size="17" text-anchor="middle" font-weight="normal" fill="#1e1e1e" stroke="#1e1e1e" stroke-width="0.35">75</text>
<line x1="620" y1="243" x2="669" y2="243" stroke="#333" stroke-width="1.1"/>
<line x1="665.9" y1="247.5" x2="672.1" y2="238.5" stroke="#222" stroke-width="1.1"/>
<text transform="translate(715.1 263) rotate(-90)" font-size="17" text-anchor="middle" fill="#1e1e1e" stroke="#1e1e1e" stroke-width="0.35">160</text>
<text transform="translate(740.7 263) rotate(-90)" font-size="17" text-anchor="middle" fill="#1e1e1e" stroke="#1e1e1e" stroke-width="0.35">210</text>
<line x1="721.8" y1="211" x2="721.8" y2="291" stroke="#333" stroke-width="1.1"/>
<text x="813" y="241" font-size="17" text-anchor="middle" font-weight="normal" fill="#1e1e1e" stroke="#1e1e1e" stroke-width="0.35">1.25</text>
<text transform="translate(824.1 238) rotate(-90)" font-size="17" text-anchor="middle" fill="#1e1e1e" stroke="#1e1e1e" stroke-width="0.35">35</text>
<line x1="773" y1="243" x2="856" y2="243" stroke="#333" stroke-width="1.1"/>
<line x1="769.9" y1="247.5" x2="776.1" y2="238.5" stroke="#222" stroke-width="1.1"/>
<text x="727.5" y="299" font-size="17" text-anchor="middle" font-weight="normal" fill="#1e1e1e" stroke="#1e1e1e" stroke-width="0.35">3.60</text>
<text x="842" y="299" font-size="17" text-anchor="middle" font-weight="normal" fill="#1e1e1e" stroke="#1e1e1e" stroke-width="0.35">35</text>
<text x="451.4" y="342.7" font-size="16" text-anchor="start" font-weight="bold" fill="#1e1e1e" stroke="#1e1e1e" stroke-width="0.35">Dormitor 2</text>
<text x="451.4" y="366" font-size="16" text-anchor="start" font-weight="normal" fill="#1e1e1e" stroke="#1e1e1e" stroke-width="0.35">pard.:</text>
<text x="518" y="366" font-size="16" text-anchor="start" font-weight="normal" fill="#1e1e1e" stroke="#1e1e1e" stroke-width="0.35">parchet</text>
<text x="451.4" y="388.6" font-size="16" text-anchor="start" font-weight="normal" fill="#1e1e1e" stroke="#1e1e1e" stroke-width="0.35">pereti: v. lavabila</text>
<text x="451.4" y="411" font-size="16" text-anchor="start" font-weight="normal" fill="#1e1e1e" stroke="#1e1e1e" stroke-width="0.35">S:</text>
<text x="509.7" y="411" font-size="16" text-anchor="start" font-weight="normal" fill="#1e1e1e" stroke="#1e1e1e" stroke-width="0.35">15.18 m<tspan font-size="11" dy="-6">2</tspan></text>
<text transform="translate(441.1 360) rotate(-90)" font-size="17" text-anchor="middle" fill="#1e1e1e" stroke="#1e1e1e" stroke-width="0.35">4.40</text>
<text x="688.7" y="342.3" font-size="16" text-anchor="start" font-weight="bold" fill="#1e1e1e" stroke="#1e1e1e" stroke-width="0.35">Dormitor 3</text>
<text x="688.7" y="366" font-size="16" text-anchor="start" font-weight="normal" fill="#1e1e1e" stroke="#1e1e1e" stroke-width="0.35">pard.:</text>
<text x="754.8" y="366" font-size="16" text-anchor="start" font-weight="normal" fill="#1e1e1e" stroke="#1e1e1e" stroke-width="0.35">parchet</text>
<text x="688.7" y="388.7" font-size="16" text-anchor="start" font-weight="normal" fill="#1e1e1e" stroke="#1e1e1e" stroke-width="0.35">pereti: v. lavabila</text>
<text x="688.7" y="411" font-size="16" text-anchor="start" font-weight="normal" fill="#1e1e1e" stroke="#1e1e1e" stroke-width="0.35">S:</text>
<text x="745.8" y="411" font-size="16" text-anchor="start" font-weight="normal" fill="#1e1e1e" stroke="#1e1e1e" stroke-width="0.35">16.22 m<tspan font-size="11" dy="-6">2</tspan></text>
<text x="688.7" y="431.6" font-size="14" text-anchor="start" font-weight="normal" fill="#1e1e1e" stroke="#1e1e1e" stroke-width="0.35">H:</text>
<text x="712.5" y="431.6" font-size="14" text-anchor="start" font-weight="normal" fill="#1e1e1e" stroke="#1e1e1e" stroke-width="0.35">2.60</text>
<text transform="translate(823.7 362) rotate(-90)" font-size="17" text-anchor="middle" fill="#1e1e1e" stroke="#1e1e1e" stroke-width="0.35">4.40</text>
<text transform="translate(560.7 471.6) rotate(-90)" font-size="17" text-anchor="middle" fill="#1e1e1e" stroke="#1e1e1e" stroke-width="0.35">90</text>
<text transform="translate(586.6 476.4) rotate(-90)" font-size="17" text-anchor="middle" fill="#1e1e1e" stroke="#1e1e1e" stroke-width="0.35">210</text>
<line x1="568" y1="450" x2="568" y2="530" stroke="#333" stroke-width="1.1"/>
<text transform="translate(649.7 471.6) rotate(-90)" font-size="17" text-anchor="middle" fill="#1e1e1e" stroke="#1e1e1e" stroke-width="0.35">90</text>
<text transform="translate(675.7 476.4) rotate(-90)" font-size="17" text-anchor="middle" fill="#1e1e1e" stroke="#1e1e1e" stroke-width="0.35">210</text>
<line x1="655" y1="450" x2="655" y2="530" stroke="#333" stroke-width="1.1"/>
<text x="459" y="498" font-size="17" text-anchor="middle" font-weight="normal" fill="#1e1e1e" stroke="#1e1e1e" stroke-width="0.35">2.45</text>
<line x1="378" y1="501.7" x2="540" y2="501.7" stroke="#333" stroke-width="1.1"/>
<line x1="374.9" y1="506.2" x2="381.1" y2="497.2" stroke="#222" stroke-width="1.1"/>
<line x1="536.9" y1="506.2" x2="543.1" y2="497.2" stroke="#222" stroke-width="1.1"/>
<text transform="translate(439.6 499) rotate(-90)" font-size="17" text-anchor="middle" fill="#1e1e1e" stroke="#1e1e1e" stroke-width="0.35">25</text>
<text x="436" y="544" font-size="17" text-anchor="middle" font-weight="normal" fill="#1e1e1e" stroke="#1e1e1e" stroke-width="0.35">2.10</text>
<line x1="378" y1="548" x2="515" y2="548" stroke="#333" stroke-width="1.1"/>
<line x1="374.9" y1="552.5" x2="381.1" y2="543.5" stroke="#222" stroke-width="1.1"/>
<text x="504" y="544" font-size="17" text-anchor="middle" font-weight="normal" fill="#1e1e1e" stroke="#1e1e1e" stroke-width="0.35">15</text>
<text transform="translate(547.1 568.3) rotate(-90)" font-size="17" text-anchor="middle" fill="#1e1e1e" stroke="#1e1e1e" stroke-width="0.35">1.20</text>
<line x1="546.8" y1="530" x2="546.8" y2="618" stroke="#333" stroke-width="1.1"/>
<text x="580.8" y="555.5" font-size="16" text-anchor="start" font-weight="bold" fill="#1e1e1e" stroke="#1e1e1e" stroke-width="0.35">Hol</text>
<text x="580.8" y="578" font-size="16" text-anchor="start" font-weight="normal" fill="#1e1e1e" stroke="#1e1e1e" stroke-width="0.35">pard.: gresie</text>
<text x="583" y="600" font-size="16" text-anchor="start" font-weight="normal" fill="#1e1e1e" stroke="#1e1e1e" stroke-width="0.35">S:</text>
<text x="615" y="600" font-size="16" text-anchor="start" font-weight="normal" fill="#1e1e1e" stroke="#1e1e1e" stroke-width="0.35">4.47 m<tspan font-size="11" dy="-6">2</tspan></text>
<text x="571" y="595" font-size="17" text-anchor="middle" font-weight="normal" fill="#1e1e1e" stroke="#1e1e1e" stroke-width="0.35">1.45</text>
<line x1="525" y1="598" x2="625" y2="598" stroke="#333" stroke-width="1.1"/>
<line x1="521.9" y1="602.5" x2="528.1" y2="593.5" stroke="#222" stroke-width="1.1"/>
<text x="503" y="630.6" font-size="17" text-anchor="middle" font-weight="normal" fill="#1e1e1e" stroke="#1e1e1e" stroke-width="0.35">35</text>
<line x1="525" y1="634" x2="710" y2="634" stroke="#333" stroke-width="1.1"/>
<line x1="521.9" y1="638.5" x2="528.1" y2="629.5" stroke="#222" stroke-width="1.1"/>
<line x1="605.9" y1="638.5" x2="612.1" y2="629.5" stroke="#222" stroke-width="1.1"/>
<text x="652.4" y="632" font-size="17" text-anchor="middle" font-weight="normal" fill="#1e1e1e" stroke="#1e1e1e" stroke-width="0.35">1.37</text>
<line x1="616.9" y1="638.5" x2="623.1" y2="629.5" stroke="#222" stroke-width="1.1"/>
<text x="690.6" y="544.2" font-size="17" text-anchor="middle" font-weight="normal" fill="#1e1e1e" stroke="#1e1e1e" stroke-width="0.35">5.05</text>
<text x="770" y="501.7" font-size="17" text-anchor="middle" font-weight="normal" fill="#1e1e1e" stroke="#1e1e1e" stroke-width="0.35">2.60</text>
<line x1="710" y1="506" x2="856" y2="506" stroke="#333" stroke-width="1.1"/>
<line x1="706.9" y1="510.5" x2="713.1" y2="501.5" stroke="#222" stroke-width="1.1"/>
<line x1="852.9" y1="510.5" x2="859.1" y2="501.5" stroke="#222" stroke-width="1.1"/>
<text transform="translate(825.6 500) rotate(-90)" font-size="17" text-anchor="middle" fill="#1e1e1e" stroke="#1e1e1e" stroke-width="0.35">25</text>
<text x="629.7" y="494.6" font-size="17" text-anchor="middle" font-weight="normal" fill="#1e1e1e" stroke="#1e1e1e" stroke-width="0.35">10</text>
<text x="602" y="494.6" font-size="17" text-anchor="middle" font-weight="normal" fill="#1e1e1e" stroke="#1e1e1e" stroke-width="0.35">10</text>
<text transform="translate(746.1 562.6) rotate(-90)" font-size="17" text-anchor="middle" fill="#1e1e1e" stroke="#1e1e1e" stroke-width="0.35">90</text>
<text x="754.4" y="582.5" font-size="17" text-anchor="middle" font-weight="normal" fill="#1e1e1e" stroke="#1e1e1e" stroke-width="0.35">1.32</text>
<text x="825" y="582.5" font-size="17" text-anchor="middle" font-weight="normal" fill="#1e1e1e" stroke="#1e1e1e" stroke-width="0.35">90</text>
<text transform="translate(746.1 602) rotate(-90)" font-size="17" text-anchor="middle" fill="#1e1e1e" stroke="#1e1e1e" stroke-width="0.35">20</text>
<text transform="translate(827.1 609.4) rotate(-90)" font-size="17" text-anchor="middle" fill="#1e1e1e" stroke="#1e1e1e" stroke-width="0.35">2.00</text>
<text x="781.3" y="630.6" font-size="17" text-anchor="middle" font-weight="normal" fill="#1e1e1e" stroke="#1e1e1e" stroke-width="0.35">2.23</text>
<text transform="translate(746.1 647) rotate(-90)" font-size="17" text-anchor="middle" fill="#1e1e1e" stroke="#1e1e1e" stroke-width="0.35">90</text>
<text transform="translate(561.4 661) rotate(-90)" font-size="17" text-anchor="middle" fill="#1e1e1e" stroke="#1e1e1e" stroke-width="0.35">90</text>
<text transform="translate(586.1 643) rotate(-90)" font-size="17" text-anchor="middle" fill="#1e1e1e" stroke="#1e1e1e" stroke-width="0.35">21015</text>
<line x1="568.3" y1="608" x2="568.3" y2="684" stroke="#333" stroke-width="1.1"/>
<line x1="590" y1="608" x2="590" y2="700" stroke="#555" stroke-width="1"/>
<text transform="translate(441.1 671) rotate(-90)" font-size="17" text-anchor="middle" fill="#1e1e1e" stroke="#1e1e1e" stroke-width="0.35">4.65</text>
<text x="440.6" y="689.4" font-size="16" text-anchor="start" font-weight="bold" fill="#1e1e1e" stroke="#1e1e1e" stroke-width="0.35">Dormitor 1</text>
<text x="440.6" y="713.5" font-size="16" text-anchor="start" font-weight="normal" fill="#1e1e1e" stroke="#1e1e1e" stroke-width="0.35">pard.:</text>
<text x="507" y="713.5" font-size="16" text-anchor="start" font-weight="normal" fill="#1e1e1e" stroke="#1e1e1e" stroke-width="0.35">parchet</text>
<text x="440.6" y="736" font-size="16" text-anchor="start" font-weight="normal" fill="#1e1e1e" stroke="#1e1e1e" stroke-width="0.35">pereti: v. lavabila</text>
<text x="440.6" y="758.8" font-size="16" text-anchor="start" font-weight="normal" fill="#1e1e1e" stroke="#1e1e1e" stroke-width="0.35">S:</text>
<text x="497" y="758.8" font-size="16" text-anchor="start" font-weight="normal" fill="#1e1e1e" stroke="#1e1e1e" stroke-width="0.35">14.52 m<tspan font-size="11" dy="-6">2</tspan></text>
<text transform="translate(589.7 736) rotate(-90)" font-size="17" text-anchor="middle" fill="#1e1e1e" stroke="#1e1e1e" stroke-width="0.35">3.30</text>
<text x="484.5" y="800" font-size="17" text-anchor="middle" font-weight="normal" fill="#1e1e1e" stroke="#1e1e1e" stroke-width="0.35">3.55</text>
<line x1="362" y1="802.7" x2="880" y2="802.7" stroke="#333" stroke-width="1.1"/>
<line x1="374.9" y1="807.2" x2="381.1" y2="798.2" stroke="#222" stroke-width="1.1"/>
<line x1="605.9" y1="807.2" x2="612.1" y2="798.2" stroke="#222" stroke-width="1.1"/>
<line x1="616.9" y1="807.2" x2="623.1" y2="798.2" stroke="#222" stroke-width="1.1"/>
<line x1="852.9" y1="807.2" x2="859.1" y2="798.2" stroke="#222" stroke-width="1.1"/>
<text x="597.8" y="800" font-size="17" text-anchor="middle" font-weight="normal" fill="#1e1e1e" stroke="#1e1e1e" stroke-width="0.35">15</text>
<text x="409.4" y="818.3" font-size="17" text-anchor="middle" font-weight="normal" fill="#1e1e1e" stroke="#1e1e1e" stroke-width="0.35">1.00</text>
<line x1="378" y1="821.7" x2="880" y2="821.7" stroke="#333" stroke-width="1.1"/>
<line x1="374.9" y1="826.2" x2="381.1" y2="817.2" stroke="#222" stroke-width="1.1"/>
<line x1="438.9" y1="826.2" x2="445.1" y2="817.2" stroke="#222" stroke-width="1.1"/>
<line x1="538.9" y1="826.2" x2="545.1" y2="817.2" stroke="#222" stroke-width="1.1"/>
<line x1="605.9" y1="826.2" x2="612.1" y2="817.2" stroke="#222" stroke-width="1.1"/>
<text transform="translate(441.1 821) rotate(-90)" font-size="17" text-anchor="middle" fill="#1e1e1e" stroke="#1e1e1e" stroke-width="0.35">35</text>
<text x="490" y="824.5" font-size="12" text-anchor="end" font-weight="normal" fill="#1e1e1e" stroke="#1e1e1e" stroke-width="0.35">hp=</text>
<text x="496" y="824.5" font-size="12" text-anchor="start" font-weight="normal" fill="#1e1e1e" stroke="#1e1e1e" stroke-width="0.35">100</text>
<text x="576.5" y="818.3" font-size="17" text-anchor="middle" font-weight="normal" fill="#1e1e1e" stroke="#1e1e1e" stroke-width="0.35">1.05</text>
<text transform="translate(488.3 877.8) rotate(-90)" font-size="12" text-anchor="middle" fill="#1e1e1e" stroke="#1e1e1e" stroke-width="0.35">150</text>
<text transform="translate(508.0 877.8) rotate(-90)" font-size="12" text-anchor="middle" fill="#1e1e1e" stroke="#1e1e1e" stroke-width="0.35">120</text>
<text transform="translate(586.1 869) rotate(-90)" font-size="17" text-anchor="middle" fill="#1e1e1e" stroke="#1e1e1e" stroke-width="0.35">35</text>
<text x="641" y="698.8" font-size="17" text-anchor="middle" font-weight="normal" fill="#1e1e1e" stroke="#1e1e1e" stroke-width="0.35">10</text>
<text transform="translate(645.8 719) rotate(-90)" font-size="17" text-anchor="middle" fill="#1e1e1e" stroke="#1e1e1e" stroke-width="0.35">80</text>
<text transform="translate(672.7 715) rotate(-90)" font-size="17" text-anchor="middle" fill="#1e1e1e" stroke="#1e1e1e" stroke-width="0.35">210</text>
<line x1="652.4" y1="662" x2="652.4" y2="742" stroke="#333" stroke-width="1.1"/>
<text x="760" y="698" font-size="17" text-anchor="middle" font-weight="normal" fill="#1e1e1e" stroke="#1e1e1e" stroke-width="0.35">2.50</text>
<line x1="620" y1="700.7" x2="856" y2="700.7" stroke="#333" stroke-width="1.1"/>
<line x1="616.9" y1="705.2" x2="623.1" y2="696.2" stroke="#222" stroke-width="1.1"/>
<line x1="852.9" y1="705.2" x2="859.1" y2="696.2" stroke="#222" stroke-width="1.1"/>
<text transform="translate(825.6 689.4) rotate(-90)" font-size="17" text-anchor="middle" fill="#1e1e1e" stroke="#1e1e1e" stroke-width="0.35">25</text>
<text x="836.5" y="698" font-size="17" text-anchor="middle" font-weight="normal" fill="#1e1e1e" stroke="#1e1e1e" stroke-width="0.35">20</text>
<text x="716" y="734.7" font-size="16" text-anchor="start" font-weight="bold" fill="#1e1e1e" stroke="#1e1e1e" stroke-width="0.35">Baie</text>
<text x="716" y="758.8" font-size="16" text-anchor="start" font-weight="normal" fill="#1e1e1e" stroke="#1e1e1e" stroke-width="0.35">pard.: gresie</text>
<text x="716" y="781.5" font-size="16" text-anchor="start" font-weight="normal" fill="#1e1e1e" stroke="#1e1e1e" stroke-width="0.35">S:</text>
<text x="748.7" y="781.5" font-size="16" text-anchor="start" font-weight="normal" fill="#1e1e1e" stroke="#1e1e1e" stroke-width="0.35">8.64 m<tspan font-size="11" dy="-6">2</tspan></text>
<text transform="translate(825.6 756) rotate(-90)" font-size="17" text-anchor="middle" fill="#1e1e1e" stroke="#1e1e1e" stroke-width="0.35">2.40</text>
<line x1="826.6" y1="662" x2="826.6" y2="861" stroke="#333" stroke-width="1.1"/>
<text x="727.5" y="800" font-size="17" text-anchor="middle" font-weight="normal" fill="#1e1e1e" stroke="#1e1e1e" stroke-width="0.35">3.60</text>
<text x="842" y="800" font-size="17" text-anchor="middle" font-weight="normal" fill="#1e1e1e" stroke="#1e1e1e" stroke-width="0.35">35</text>
<text x="676.5" y="818.3" font-size="17" text-anchor="middle" font-weight="normal" fill="#1e1e1e" stroke="#1e1e1e" stroke-width="0.35">1.70</text>
<text x="816.7" y="818" font-size="17" text-anchor="middle" font-weight="normal" fill="#1e1e1e" stroke="#1e1e1e" stroke-width="0.35">1.20</text>
<text transform="translate(825.6 822.5) rotate(-90)" font-size="17" text-anchor="middle" fill="#1e1e1e" stroke="#1e1e1e" stroke-width="0.35">35</text>
<text x="753.6" y="824.6" font-size="12" text-anchor="end" font-weight="normal" fill="#1e1e1e" stroke="#1e1e1e" stroke-width="0.35">hp=</text>
<text x="759.7" y="824.6" font-size="12" text-anchor="start" font-weight="normal" fill="#1e1e1e" stroke="#1e1e1e" stroke-width="0.35">100</text>
<text transform="translate(750.7 874.7) rotate(-90)" font-size="13" text-anchor="middle" fill="#1e1e1e" stroke="#1e1e1e" stroke-width="0.35">70</text>
<text transform="translate(771.0 871.2) rotate(-90)" font-size="13" text-anchor="middle" fill="#1e1e1e" stroke="#1e1e1e" stroke-width="0.35">120</text>
<path d="M360 497Q373 503 373 520V645Q373 657 360 661" fill="none" stroke="#fff" stroke-width="4" stroke-opacity="0.6" stroke-linecap="round"/>
<line x1="422" y1="505" x2="422" y2="540" fill="none" stroke="#fff" stroke-width="4" stroke-opacity="0.6" stroke-linecap="round"/>
<line x1="435" y1="505" x2="435" y2="540" fill="none" stroke="#fff" stroke-width="4" stroke-opacity="0.6" stroke-linecap="round"/>
<line x1="460" y1="505" x2="460" y2="540" fill="none" stroke="#fff" stroke-width="4" stroke-opacity="0.6" stroke-linecap="round"/>
<line x1="474" y1="505" x2="474" y2="540" fill="none" stroke="#fff" stroke-width="4" stroke-opacity="0.6" stroke-linecap="round"/>
<path d="M478 516H500Q524 518 524 550V605Q524 622 505 626" fill="none" stroke="#fff" stroke-width="4" stroke-opacity="0.6" stroke-linecap="round"/>
<path d="M548 618Q540 640 548 665Q560 690 590 690" fill="none" stroke="#fff" stroke-width="4" stroke-opacity="0.6" stroke-linecap="round"/>
<path d="M600 610Q620 612 622 640" fill="none" stroke="#fff" stroke-width="4" stroke-opacity="0.6" stroke-linecap="round"/>
<line x1="706" y1="505" x2="706" y2="540" fill="none" stroke="#fff" stroke-width="4" stroke-opacity="0.6" stroke-linecap="round"/>
<line x1="718.5" y1="505" x2="718.5" y2="540" fill="none" stroke="#fff" stroke-width="4" stroke-opacity="0.6" stroke-linecap="round"/>
<line x1="728.7" y1="505" x2="728.7" y2="540" fill="none" stroke="#fff" stroke-width="4" stroke-opacity="0.6" stroke-linecap="round"/>
</svg></body></html>
